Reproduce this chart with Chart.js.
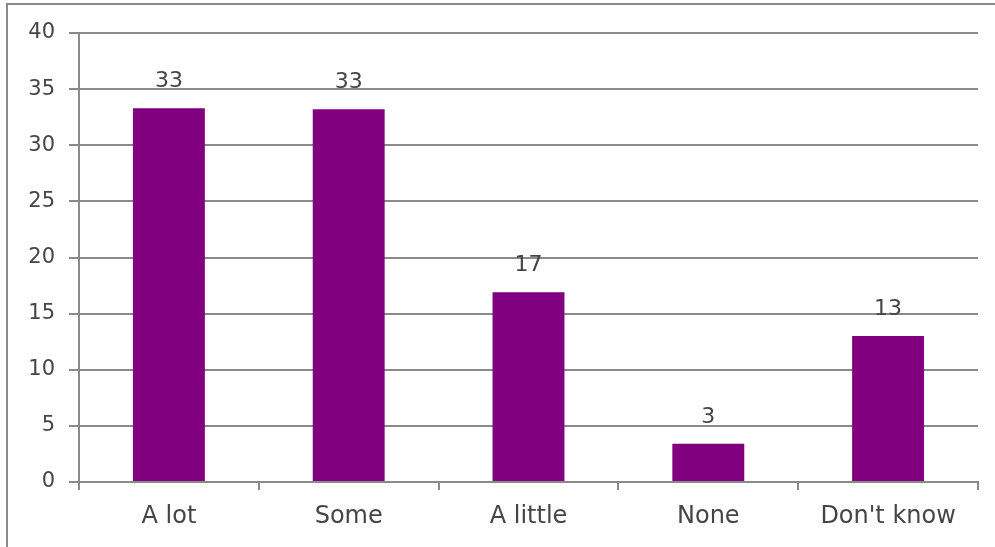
<!DOCTYPE html>
<html>
<head>
<meta charset="utf-8">
<script src="https://cdn.jsdelivr.net/npm/chart.js@4.4.1/dist/chart.umd.min.js"></script>
<style>
  html, body { margin: 0; padding: 0; background: #ffffff; }
  #wrap { position: relative; width: 995px; height: 547px; }
</style>
</head>
<body>
<div id="wrap"><canvas id="c" width="995" height="547"></canvas></div>
<script>
const categories = ["A lot", "Some", "A little", "None", "Don't know"];
const values = [33.3, 33.2, 16.9, 3.4, 13.0];
const valueLabels = ["33", "33", "17", "3", "13"];
const yTicks = [0, 5, 10, 15, 20, 25, 30, 35, 40];

const FONT = "'DejaVu Sans', sans-serif";
const TEXT = "#454545";
const GRID = "#8a8a8a";

const framePlugin = {
  id: 'frame',
  beforeDraw(chart) {
    const ctx = chart.ctx;
    ctx.save();
    ctx.strokeStyle = '#8a8a8a';
    ctx.lineWidth = 2;
    ctx.beginPath();
    ctx.moveTo(7, 547);
    ctx.lineTo(7, 4);
    ctx.lineTo(995, 4);
    ctx.stroke();
    ctx.restore();
  }
};

const labelPlugin = {
  id: 'valueLabels',
  afterDatasetsDraw(chart) {
    const ctx = chart.ctx;
    const meta = chart.getDatasetMeta(0);
    ctx.save();
    ctx.font = "22px " + FONT;
    ctx.fillStyle = TEXT;
    ctx.textAlign = 'center';
    ctx.textBaseline = 'middle';
    meta.data.forEach((bar, i) => {
      ctx.fillText(valueLabels[i], bar.x, bar.y - 27);
    });
    ctx.restore();
  }
};

new Chart(document.getElementById('c'), {
  type: 'bar',
  data: {
    labels: categories,
    datasets: [{
      data: values,
      backgroundColor: '#800080',
      borderWidth: 0,
      barPercentage: 0.4,
      categoryPercentage: 1.0
    }]
  },
  options: {
    responsive: false,
    animation: false,
    devicePixelRatio: 1,
    layout: { padding: { left: 0, right: 17, top: 33, bottom: 0 } },
    plugins: { legend: { display: false }, tooltip: { enabled: false } },
    scales: {
      x: {
        grid: {
          display: true,
          drawOnChartArea: false,
          drawTicks: true,
          tickLength: 8,
          color: GRID,
          lineWidth: 2,
          offset: true
        },
        border: { display: true, color: GRID, width: 2 },
        ticks: {
          color: TEXT,
          font: { family: FONT, size: 24 },
          padding: 12,
          maxRotation: 0,
          autoSkip: false
        },
        afterFit(scale) { scale.height = 65; }
      },
      y: {
        min: 0,
        max: 40,
        afterBuildTicks(scale) { scale.ticks = yTicks.map(v => ({ value: v })); },
        grid: {
          color: GRID,
          lineWidth: 2,
          drawTicks: true,
          tickLength: 10
        },
        border: { display: true, color: GRID, width: 2 },
        ticks: {
          color: TEXT,
          font: { family: FONT, size: 21 },
          padding: 14
        },
        afterFit(scale) { scale.width = 79; }
      }
    }
  },
  plugins: [framePlugin, labelPlugin]
});
</script>
</body>
</html>
